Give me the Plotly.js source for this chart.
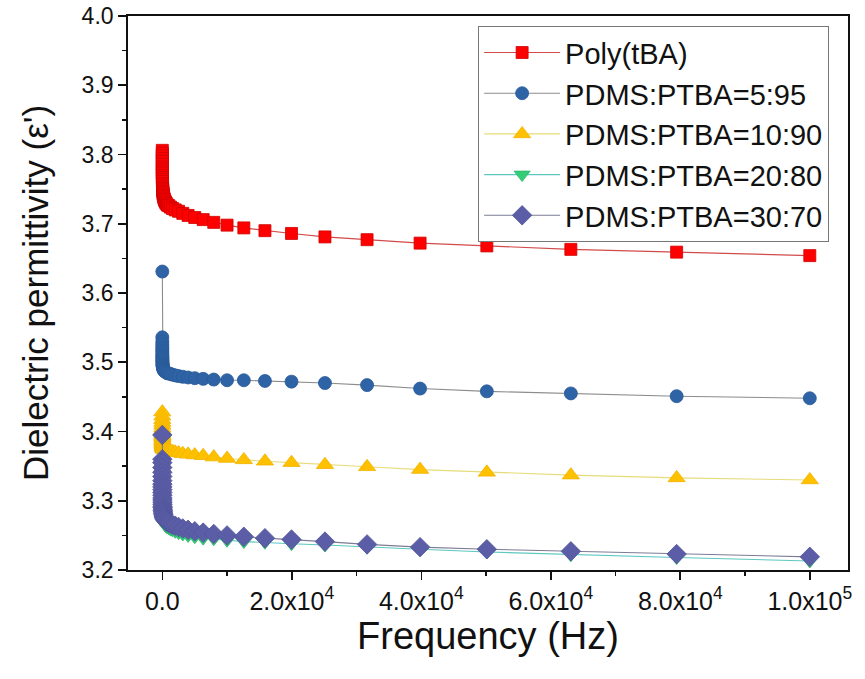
<!DOCTYPE html>
<html>
<head>
<meta charset="utf-8">
<script src="https://cdn.plot.ly/plotly-3.0.1.min.js"></script>
<style>body{margin:0;background:#fff}#chart{width:865px;height:679px}</style>
</head>
<body>
<div id="chart"></div>
<script>
const freq = [1,1.259,1.585,1.995,2.512,3.162,3.981,5.012,6.310,7.943,
  10,12.59,15.85,19.95,25.12,31.62,39.81,50.12,63.10,79.43,
  100,125.9,158.5,199.5,251.2,316.2,398.1,501.2,631.0,794.3,
  1000,1259,1585,1995,2512,3162,3981,5012,6310,7943,
  10000,12589,15849,19953,25119,31623,39811,50119,63096,79433,100000];

const polyTBA = [3.806,3.802,3.798,3.794,3.790,3.786,3.782,3.779,3.776,3.773,
  3.770,3.767,3.764,3.761,3.758,3.756,3.753,3.751,3.749,3.747,
  3.745,3.743,3.741,3.739,3.737,3.735,3.733,3.731,3.729,3.727,
  3.726,3.724,3.722,3.720,3.718,3.715,3.712,3.709,3.706,3.702,
  3.698,3.694,3.690,3.686,3.681,3.677,3.672,3.668,3.663,3.659,3.654];

const pdms5 = [3.631,3.536,3.530,3.526,3.522,3.519,3.516,3.513,3.510,3.508,
  3.506,3.504,3.502,3.500,3.499,3.497,3.496,3.495,3.494,3.493,
  3.492,3.491,3.490,3.489,3.488,3.487,3.487,3.486,3.485,3.484,
  3.484,3.483,3.482,3.481,3.480,3.479,3.478,3.477,3.476,3.475,
  3.474,3.474,3.473,3.472,3.470,3.467,3.462,3.458,3.455,3.451,3.448];

const pdms10 = [3.428,3.422,3.417,3.413,3.409,3.405,3.402,3.399,3.396,3.394,
  3.392,3.390,3.388,3.386,3.385,3.383,3.382,3.381,3.380,3.379,
  3.378,3.377,3.376,3.375,3.375,3.374,3.374,3.373,3.373,3.372,
  3.372,3.371,3.371,3.370,3.369,3.368,3.367,3.366,3.365,3.363,
  3.361,3.359,3.357,3.355,3.352,3.349,3.345,3.341,3.337,3.333,3.330];

const pdms20 = [3.352,3.345,3.339,3.333,3.327,3.322,3.317,3.313,3.309,3.305,
  3.302,3.298,3.295,3.292,3.289,3.287,3.284,3.282,3.280,3.278,
  3.276,3.274,3.272,3.270,3.269,3.267,3.266,3.264,3.263,3.262,
  3.261,3.259,3.258,3.256,3.254,3.252,3.250,3.248,3.246,3.245,
  3.243,3.241,3.240,3.238,3.236,3.233,3.230,3.226,3.222,3.218,3.213];

const pdms30 = [3.395,3.360,3.355,3.348,3.341,3.335,3.329,3.324,3.320,3.316,
  3.312,3.308,3.304,3.301,3.298,3.295,3.292,3.290,3.288,3.286,
  3.284,3.282,3.280,3.278,3.276,3.275,3.273,3.272,3.270,3.269,
  3.268,3.267,3.265,3.264,3.262,3.260,3.258,3.256,3.254,3.252,
  3.250,3.248,3.246,3.244,3.241,3.237,3.233,3.230,3.227,3.223,3.219];

const seriesNames = ['Poly(tBA)','PDMS:PTBA=5:95','PDMS:PTBA=10:90','PDMS:PTBA=20:80','PDMS:PTBA=30:70'];
const xTickVals = [0,20000,40000,60000,80000,100000];
const xTickText = ['0.0','2.0x10<sup>4</sup>','4.0x10<sup>4</sup>','6.0x10<sup>4</sup>','8.0x10<sup>4</sup>','1.0x10<sup>5</sup>'];

const styles = [
  {sym:'square', size:12, color:'#ff0000', edge:'#d00000', line:'#d24a4a'},
  {sym:'circle', size:13, color:'#2e63a6', edge:'#2a5a98', line:'#8c8c8c'},
  {sym:'triangle-up', size:15, color:'#ffc000', edge:'#f0b400', line:'#e6dc7a'},
  {sym:'triangle-down', size:14, color:'#33cc77', edge:'#2cb86a', line:'#5cc8c0'},
  {sym:'diamond', size:15, color:'#5b5ea6', edge:'#52559a', line:'#7c7c96'}
];
const ys = [polyTBA, pdms5, pdms10, pdms20, pdms30];

const traces = ys.map((y,i)=>({
  x: freq, y: y, name: seriesNames[i], type:'scatter', mode:'lines+markers',
  line:{color:styles[i].line, width:1.1},
  marker:{symbol:styles[i].sym, size:styles[i].size, color:styles[i].color,
          line:{color:styles[i].edge, width:0.8}}
}));

const font = 'Liberation Sans, Arial, sans-serif';
const layout = {
  width:865, height:679,
  margin:{l:128, r:17, t:16, b:109},
  paper_bgcolor:'#fff', plot_bgcolor:'#fff',
  showlegend:true,
  legend:{x:0.486, y:0.982, xanchor:'left', yanchor:'top',
    bgcolor:'#fff', bordercolor:'#777', borderwidth:1.2,
    font:{family:font, size:29, color:'#111'}, itemwidth:76, tracegroupgap:0},
  xaxis:{range:[-5300,105900], showgrid:false, zeroline:false,
    showline:true, linecolor:'#111', linewidth:1.8, mirror:true,
    ticks:'outside', ticklen:8, tickwidth:1.6, tickcolor:'#111',
    tickmode:'array', tickvals:xTickVals, ticktext:xTickText,
    minor:{ticks:'outside', ticklen:4, tickwidth:1.4, tickcolor:'#111', dtick:10000, tick0:0, showgrid:false},
    tickfont:{family:font, size:25, color:'#111'},
    title:{text:'Frequency (Hz)', font:{family:font, size:38, color:'#111'}, standoff:8}},
  yaxis:{range:[3.2,4.0], showgrid:false, zeroline:false,
    showline:true, linecolor:'#111', linewidth:1.8, mirror:true,
    ticks:'outside', ticklen:8, tickwidth:1.6, tickcolor:'#111',
    dtick:0.1, tick0:3.2, tickformat:'.1f',
    minor:{ticks:'outside', ticklen:4, tickwidth:1.4, tickcolor:'#111', dtick:0.05, showgrid:false},
    tickfont:{family:font, size:23, color:'#111'},
    title:{text:"Dielectric permittivity (ε')", font:{family:font, size:35, color:'#111'}, standoff:22}}
};
Plotly.newPlot('chart', traces, layout, {displayModeBar:false, staticPlot:true});
</script>
</body>
</html>
